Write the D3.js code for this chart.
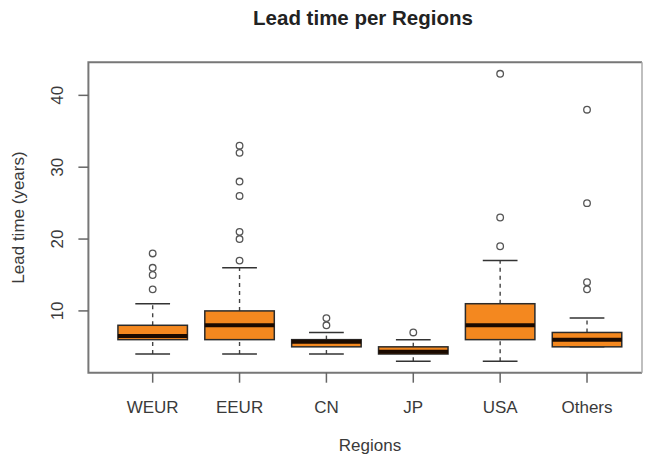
<!DOCTYPE html>
<html>
<head>
<meta charset="utf-8">
<script src="https://cdn.jsdelivr.net/npm/d3@7"></script>
<style>
  html, body { margin: 0; padding: 0; background: #fff; }
  svg { display: block; }
</style>
</head>
<body>
<div id="chart"></div>
<script>
const categories = ['WEUR', 'EEUR', 'CN', 'JP', 'USA', 'Others'];
const lowWhisker = [4, 4, 4, 3, 3, 5];
const q1 = [6, 6, 5, 4, 6, 5];
const median = [6.5, 8, 5.7, 4.3, 8, 6];
const q3 = [8, 10, 6, 5, 11, 7];
const highWhisker = [11, 16, 7, 6, 17, 9];
const outliers = [
  [13, 15, 16, 18],
  [17, 20, 21, 26, 28, 32, 33],
  [8, 9],
  [7],
  [19, 23, 43],
  [13, 14, 25, 38]
];
const yTicks = [10, 20, 30, 40];

const W = 648, H = 458;
const pL = 88.4, pR = 651.3, pT = 62.3, pB = 372.7, frameR = 642;
const FONT = '"Liberation Sans", Arial, sans-serif';
const TXT = '#3a3a3a';

const svg = d3.select('#chart').append('svg').attr('width', W).attr('height', H);

// R style: boxes at 1..n, xlim 0.5..n+0.5 extended by 4%
const x = d3.scaleLinear().domain([0.26, categories.length + 0.74]).range([pL, pR]);
const y = d3.scaleLinear().domain([1.4, 44.6]).range([pB, pT]);
const half = x(1.4) - x(1);
const stapleHalf = x(1.2) - x(1);

const rows = categories.map((c, i) => ({
  c, pos: i + 1, lo: lowWhisker[i], q1: q1[i], med: median[i], q3: q3[i], hi: highWhisker[i], out: outliers[i]
}));

const g = svg.append('g');
rows.forEach(d => {
  const cx = x(d.pos);
  // whiskers
  [[d.q3, d.hi], [d.lo, d.q1]].forEach(([a, b]) => {
    g.append('line').attr('x1', cx).attr('x2', cx).attr('y1', y(a)).attr('y2', y(b))
      .attr('stroke', '#444').attr('stroke-width', 1.4).attr('stroke-dasharray', '4 4');
  });
  [d.lo, d.hi].forEach(v => {
    g.append('line').attr('x1', cx - stapleHalf).attr('x2', cx + stapleHalf).attr('y1', y(v)).attr('y2', y(v))
      .attr('stroke', '#333').attr('stroke-width', 1.5);
  });
  g.append('rect').attr('x', cx - half).attr('width', 2 * half)
    .attr('y', y(d.q3)).attr('height', y(d.q1) - y(d.q3))
    .attr('fill', '#F4881F').attr('stroke', '#2b2b2b').attr('stroke-width', 1.5);
  g.append('line').attr('x1', cx - half).attr('x2', cx + half).attr('y1', y(d.med)).attr('y2', y(d.med))
    .attr('stroke', '#1a0a00').attr('stroke-width', 4);
  d.out.forEach(v => {
    g.append('circle').attr('cx', cx).attr('cy', y(v)).attr('r', 3.3)
      .attr('fill', 'none').attr('stroke', '#555').attr('stroke-width', 1.3);
  });
});

// frame (right side is cut off in the source image)
svg.append('path')
  .attr('d', `M${frameR},${pT}H${pL}V${pB}H${frameR}`)
  .attr('fill', 'none').attr('stroke', '#777').attr('stroke-width', 2);
svg.append('line').attr('x1', frameR).attr('x2', frameR).attr('y1', pT).attr('y2', pB)
  .attr('stroke', '#aaa').attr('stroke-width', 1.5);

// y axis
yTicks.forEach(t => {
  svg.append('line').attr('x1', pL - 10).attr('x2', pL).attr('y1', y(t)).attr('y2', y(t))
    .attr('stroke', '#666').attr('stroke-width', 1.5);
  svg.append('text').attr('transform', `translate(63,${y(t)}) rotate(-90)`)
    .attr('text-anchor', 'middle').attr('font-family', FONT).attr('font-size', 17)
    .attr('fill', TXT).text(t);
});

// x axis
rows.forEach(d => {
  svg.append('line').attr('x1', x(d.pos)).attr('x2', x(d.pos)).attr('y1', pB).attr('y2', pB + 10)
    .attr('stroke', '#666').attr('stroke-width', 1.5);
  svg.append('text').attr('x', x(d.pos)).attr('y', 413).attr('text-anchor', 'middle')
    .attr('font-family', FONT).attr('font-size', 17).attr('fill', TXT).text(d.c);
});

// titles
svg.append('text').attr('x', 363).attr('y', 25).attr('text-anchor', 'middle')
  .attr('font-family', FONT).attr('font-weight', 700).attr('font-size', 20.5).attr('fill', '#222')
  .text('Lead time per Regions');
svg.append('text').attr('x', 370).attr('y', 451).attr('text-anchor', 'middle')
  .attr('font-family', FONT).attr('font-size', 17).attr('fill', TXT).text('Regions');
svg.append('text').attr('transform', `translate(24,${(pT + pB) / 2}) rotate(-90)`)
  .attr('text-anchor', 'middle').attr('font-family', FONT).attr('font-size', 17)
  .attr('fill', TXT).text('Lead time (years)');
</script>
</body>
</html>
